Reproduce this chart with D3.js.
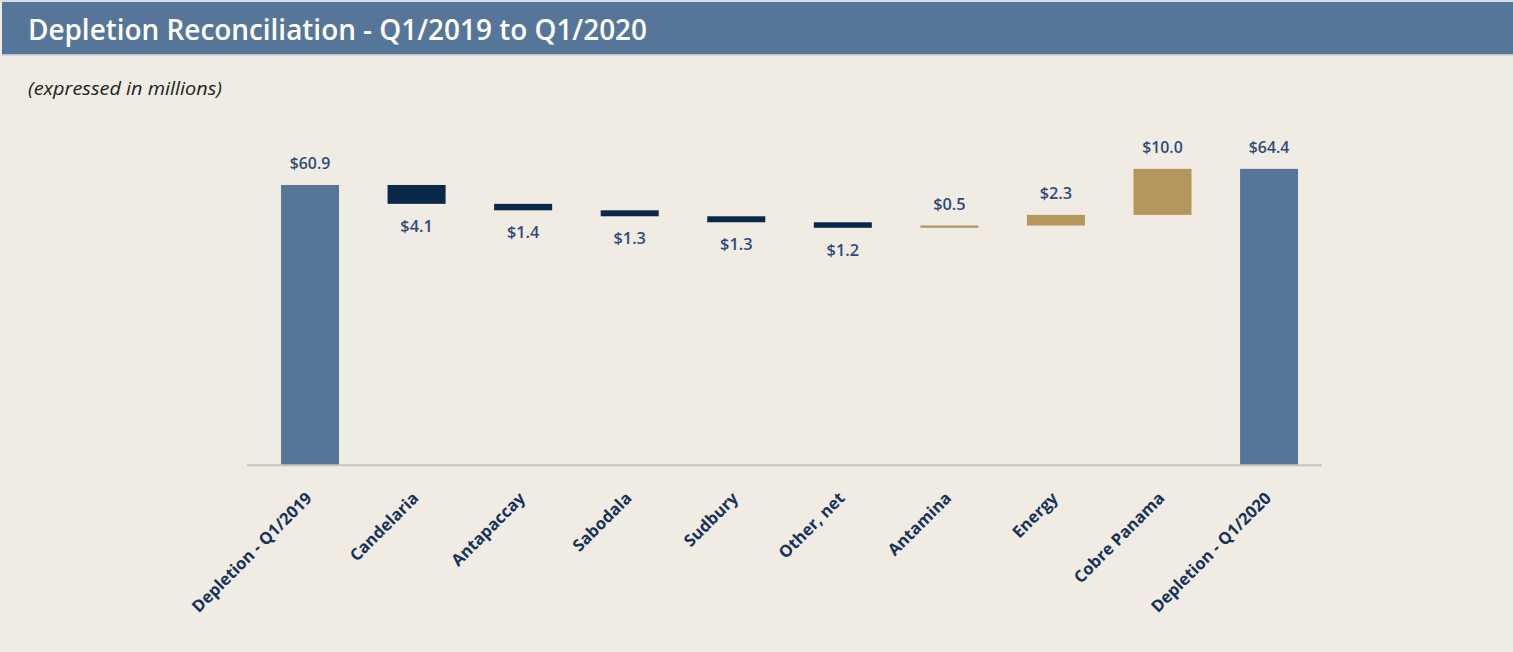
<!DOCTYPE html>
<html>
<head>
<meta charset="utf-8">
<script src="https://cdn.jsdelivr.net/npm/d3@7"></script>
<style>
  html, body { margin: 0; padding: 0; background: #F5F3EF; }
  svg { display: block; }
</style>
</head>
<body>
<script>
// ---- Data ----
const categories = ["Depletion - Q1/2019", "Candelaria", "Antapaccay", "Sabodala", "Sudbury",
                    "Other, net", "Antamina", "Energy", "Cobre Panama", "Depletion - Q1/2020"];
const values = [60.9, -4.1, -1.4, -1.3, -1.3, -1.2, 0.5, 2.3, 10.0, 64.4];
const kinds = ["total", "delta", "delta", "delta", "delta", "delta", "delta", "delta", "delta", "total"];
const valueLabels = ["$60.9", "$4.1", "$1.4", "$1.3", "$1.3", "$1.2", "$0.5", "$2.3", "$10.0", "$64.4"];
const title = "Depletion Reconciliation - Q1/2019 to Q1/2020";
const subtitle = "(expressed in millions)";

// ---- Build waterfall segments ----
let running = 0;
const segs = categories.map((c, i) => {
  let y0, y1, type;
  if (kinds[i] === "total") {
    y0 = 0; y1 = values[i]; running = values[i]; type = "total";
  } else {
    y0 = running; y1 = running + values[i]; running = y1;
    type = values[i] < 0 ? "neg" : "pos";
  }
  return { cat: c, y0, y1, type, label: valueLabels[i] };
});

const W = 1513, H = 652;
const svg = d3.select("body").append("svg").attr("width", W).attr("height", H);

// background + header
svg.append("rect").attr("x", 0).attr("y", 0).attr("width", W).attr("height", H).attr("fill", "#F0ECE4");
svg.append("rect").attr("x", 0).attr("y", 0).attr("width", W).attr("height", 2).attr("fill", "#D6DEE8");
svg.append("rect").attr("x", 2).attr("y", 2).attr("width", W - 2).attr("height", 52).attr("fill", "#557699");
svg.append("rect").attr("x", 2).attr("y", 54).attr("width", W - 2).attr("height", 1.5).attr("fill", "#B9C4D2");

svg.append("text")
  .attr("x", 28).attr("y", 40)
  .attr("fill", "#FFFFFF")
  .attr("font-family", "'Open Sans', sans-serif")
  .attr("font-weight", 600)
  .attr("font-size", 28)
  .attr("textLength", 619).attr("lengthAdjust", "spacingAndGlyphs")
  .text(title);

svg.append("text")
  .attr("x", 28).attr("y", 95)
  .attr("fill", "#222222")
  .attr("font-family", "'Open Sans', sans-serif")
  .attr("font-style", "italic")
  .attr("font-size", 19)
  .attr("textLength", 194).attr("lengthAdjust", "spacingAndGlyphs")
  .text(subtitle);

// ---- Scales ----
const x = d3.scaleBand()
  .domain(categories)
  .range([247, 1322])
  .paddingInner(0.4557)
  .paddingOuter(0.272)
  .align(0.587);

const y = d3.scaleLinear().domain([0, 70]).range([465.3, 465.3 - 70 * 4.603]);

const colors = { total: "#557699", neg: "#0A2848", pos: "#B3975D" };

// bars
svg.append("g").selectAll("rect").data(segs).join("rect")
  .attr("x", d => x(d.cat))
  .attr("width", x.bandwidth())
  .attr("y", d => y(Math.max(d.y0, d.y1)))
  .attr("height", d => Math.max(2, Math.abs(y(d.y0) - y(d.y1))))
  .attr("fill", d => colors[d.type]);

// baseline
svg.append("line")
  .attr("x1", 247).attr("x2", 1322)
  .attr("y1", y(0)).attr("y2", y(0))
  .attr("stroke", "#C6C4BE").attr("stroke-width", 2);

// value labels
svg.append("g").selectAll("text").data(segs).join("text")
  .attr("x", d => x(d.cat) + x.bandwidth() / 2)
  .attr("y", d => d.type === "neg" ? y(Math.min(d.y0, d.y1)) + 28 : y(Math.max(d.y0, d.y1)) - 15.5)
  .attr("text-anchor", "middle")
  .attr("fill", "#2F4A78")
  .attr("font-family", "'Open Sans', sans-serif")
  .attr("font-weight", 600)
  .attr("font-size", 16)
  .attr("textLength", d => d.label.length * 8.1)
  .attr("lengthAdjust", "spacingAndGlyphs")
  .text(d => d.label);

// category labels
svg.append("g").selectAll("text").data(segs).join("text")
  .attr("transform", d => `translate(${x(d.cat) + x.bandwidth() / 2 + 3},${y(0) + 34}) rotate(-45)`)
  .attr("text-anchor", "end")
  .attr("fill", "#17325A")
  .attr("font-family", "'Open Sans', sans-serif")
  .attr("font-weight", 700)
  .attr("font-size", 16.5)
  .text(d => d.cat);
</script>
</body>
</html>
